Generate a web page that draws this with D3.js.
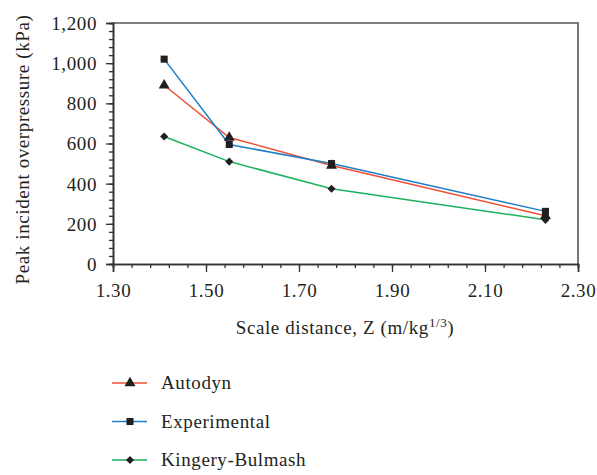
<!DOCTYPE html>
<html>
<head>
<meta charset="utf-8">
<script src="https://cdn.jsdelivr.net/npm/d3@7"></script>
<style>
  html, body { margin: 0; padding: 0; background: #fff; }
  svg { display: block; }
  svg text { font-family: "Liberation Serif", "Times New Roman", serif; fill: #231f20; letter-spacing: 0.6px; }
</style>
</head>
<body>
<svg id="chart" width="597" height="475"></svg>
<script>
// Scaled distance (m/kg^1/3) at each gauge
const distances = [1.41, 1.55, 1.77, 2.23];
// Peak incident overpressure (kPa) per series
const autodyn = [890, 630, 490, 240];
const experimental = [1020, 595, 500, 262];
const kingeryBulmash = [635, 510, 375, 220];

const seriesNames = ["Autodyn", "Experimental", "Kingery-Bulmash"];
const seriesColors = ["#ef4f36", "#1d7fc9", "#1bb15c"];
const seriesSymbols = [d3.symbolTriangle, d3.symbolSquare, d3.symbolDiamond2];
const seriesValues = [autodyn, experimental, kingeryBulmash];

const xTicks = [1.30, 1.50, 1.70, 1.90, 2.10, 2.30];
const yTicks = [0, 200, 400, 600, 800, 1000, 1200];

const margin = { left: 113, top: 23, right: 578, bottom: 264 };
const svg = d3.select("#chart");
const fontFamily = "Liberation Serif, Times New Roman, serif";

const x = d3.scaleLinear().domain([1.3, 2.3]).range([margin.left, margin.right]);
const y = d3.scaleLinear().domain([0, 1200]).range([margin.bottom, margin.top]);

const axisColor = "#333";

// plot frame (top and right edges)
svg.append("path")
  .attr("d", `M${margin.left},${margin.top}H${margin.right}V${margin.bottom}`)
  .attr("fill", "none").attr("stroke", "#555").attr("stroke-width", 1.6);

// minor ticks
const xMinor = d3.range(1.30, 2.3001, 0.04);
const yMinor = d3.range(0, 1200.1, 40);

const xMinorAxis = svg.append("g")
  .attr("transform", `translate(0,${margin.bottom})`)
  .call(d3.axisBottom(x).tickValues(xMinor).tickSize(4).tickFormat(""));
const yMinorAxis = svg.append("g")
  .attr("transform", `translate(${margin.left},0)`)
  .call(d3.axisLeft(y).tickValues(yMinor).tickSize(4).tickFormat(""));

// major ticks with labels
const xAxis = svg.append("g")
  .attr("transform", `translate(0,${margin.bottom})`)
  .call(d3.axisBottom(x).tickValues(xTicks).tickSize(8).tickPadding(12)
    .tickFormat(d3.format(".2f")));
const yAxis = svg.append("g")
  .attr("transform", `translate(${margin.left},0)`)
  .call(d3.axisLeft(y).tickValues(yTicks).tickSize(7).tickPadding(9)
    .tickFormat(d3.format(",")));

[xMinorAxis, yMinorAxis, xAxis, yAxis].forEach(g => {
  g.attr("font-family", fontFamily);
  g.selectAll(".domain").attr("stroke", axisColor).attr("stroke-width", 1.6);
  g.selectAll(".tick line").attr("stroke", axisColor).attr("stroke-width", 1.3);
});
xAxis.selectAll(".tick text").attr("font-size", 19).attr("dy", "0.71em");
yAxis.selectAll(".tick text").attr("font-size", 19).attr("dy", "0.34em");

// axis titles
const xTitle = svg.append("text")
  .attr("x", 345).attr("y", 334)
  .attr("text-anchor", "middle").attr("font-size", 19);
xTitle.append("tspan").text("Scale distance, Z (m/kg");
xTitle.append("tspan").attr("font-size", 13).attr("dy", -7).text("1/3");
xTitle.append("tspan").attr("dy", 7).text(")");

svg.append("text")
  .attr("transform", `translate(29,${(margin.top + margin.bottom) / 2 + 6}) rotate(-90)`)
  .attr("text-anchor", "middle").attr("font-size", 19)
  .text("Peak incident overpressure (kPa)");

// series lines and markers
const line = d3.line().x((d, i) => x(distances[i])).y(d => y(d));
const markerSizes = [52, 50, 42];

seriesValues.forEach((vals, s) => {
  svg.append("path")
    .datum(vals)
    .attr("d", line)
    .attr("fill", "none")
    .attr("stroke", seriesColors[s])
    .attr("stroke-width", 1.5);
});
seriesValues.forEach((vals, s) => {
  svg.append("g").selectAll("path")
    .data(vals)
    .join("path")
    .attr("transform", (d, i) => `translate(${x(distances[i])},${y(d)})`)
    .attr("d", d3.symbol().type(seriesSymbols[s]).size(markerSizes[s]))
    .attr("fill", "#231f20");
});

// legend
const legendY = [383, 421.5, 460];
seriesNames.forEach((name, s) => {
  const g = svg.append("g").attr("transform", `translate(0,${legendY[s]})`);
  g.append("line").attr("x1", 112).attr("x2", 147).attr("y1", 0).attr("y2", 0)
    .attr("stroke", seriesColors[s]).attr("stroke-width", 1.5);
  g.append("path").attr("transform", "translate(130,0)")
    .attr("d", d3.symbol().type(seriesSymbols[s]).size(markerSizes[s]))
    .attr("fill", "#231f20");
  g.append("text").attr("x", 161).attr("y", 0).attr("dy", "0.34em")
    .attr("font-size", 19).text(name);
});
</script>
</body>
</html>
